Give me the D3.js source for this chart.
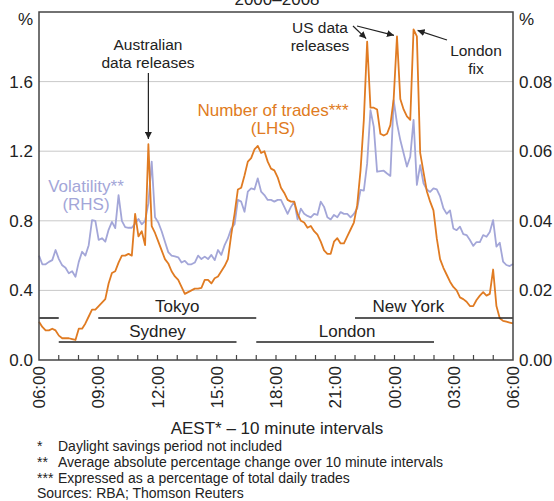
<!DOCTYPE html>
<html lang="en">
<head>
<meta charset="utf-8">
<title>Intraday trading and volatility</title>
<script src="https://d3js.org/d3.v7.min.js"></script>
<style>
    body {
        margin: 0;
        background: #fff;
        font-family: Arial, "Liberation Sans", Helvetica, sans-serif;
    }
    text { fill: #222; }
    .grid line { stroke: #c9c9c9; stroke-width: 1; }
    .frame { stroke: #444; stroke-width: 1.5; fill: none; }
</style>
</head>
<body>
<div id="chart"></div>
<script>

// 10 minute intervals from 06:00 AEST
var trades = [
    0.22, 0.19, 0.17, 0.17, 0.18, 0.17, 0.14, 0.125, 0.125, 0.125,
    0.12, 0.115, 0.18, 0.18, 0.21, 0.25, 0.29, 0.29, 0.31, 0.33,
    0.35, 0.44, 0.50, 0.51, 0.56, 0.60, 0.60, 0.61, 0.60, 0.84,
    0.71, 0.74, 0.66, 1.24, 0.77, 0.73, 0.68, 0.63, 0.58, 0.555,
    0.51, 0.48, 0.46, 0.42, 0.38, 0.39, 0.40, 0.41, 0.41, 0.415,
    0.46, 0.46, 0.44, 0.47, 0.48, 0.51, 0.54, 0.58, 0.72, 0.84,
    0.98, 0.99, 1.06, 1.14, 1.16, 1.21, 1.23, 1.19, 1.20, 1.14,
    1.10, 1.09, 1.05, 0.99, 0.96, 0.92, 0.91, 0.91, 0.84, 0.80,
    0.79, 0.76, 0.77, 0.74, 0.72, 0.68, 0.63, 0.61, 0.61, 0.68,
    0.70, 0.67, 0.67, 0.71, 0.75, 0.79, 0.89, 1.09, 1.38, 1.83,
    1.45, 1.45, 1.44, 1.30, 1.29, 1.30, 1.35, 1.50, 1.86, 1.50,
    1.44, 1.40, 1.38, 1.90, 1.86, 1.19, 1.08, 0.97, 0.91, 0.86,
    0.70, 0.58, 0.53, 0.49, 0.45, 0.42, 0.40, 0.36, 0.35, 0.335,
    0.31, 0.31, 0.345, 0.37, 0.39, 0.37, 0.38, 0.52, 0.31, 0.24,
    0.225, 0.22, 0.215, 0.21
];

var volatility = [
    0.030, 0.0275, 0.0275, 0.0282, 0.0287, 0.0316, 0.029, 0.0272, 0.0265, 0.0249,
    0.0255, 0.0239, 0.0282, 0.0311, 0.030, 0.033, 0.0402, 0.040, 0.0345, 0.035,
    0.034, 0.0374, 0.0397, 0.0379, 0.0474, 0.040, 0.0382, 0.038, 0.038, 0.0392,
    0.0405, 0.039, 0.040, 0.045, 0.057, 0.041, 0.0395, 0.037, 0.034, 0.031,
    0.030, 0.0298, 0.0295, 0.028, 0.0285, 0.0275, 0.0275, 0.028, 0.030, 0.029,
    0.0297, 0.029, 0.0302, 0.0287, 0.0316, 0.0302, 0.033, 0.035, 0.0378, 0.039,
    0.046, 0.0455, 0.0426, 0.0484, 0.0493, 0.049, 0.0522, 0.0484, 0.0474, 0.046,
    0.046, 0.0455, 0.046, 0.046, 0.044, 0.042, 0.044, 0.0455, 0.0404, 0.0435,
    0.042, 0.0414, 0.041, 0.042, 0.0417, 0.0455, 0.044, 0.041, 0.0404, 0.0417,
    0.041, 0.0425, 0.042, 0.042, 0.041, 0.042, 0.0436, 0.0489, 0.0487, 0.0565,
    0.0718, 0.067, 0.0541, 0.0543, 0.0544, 0.0536, 0.0529, 0.0747, 0.068, 0.0632,
    0.0594, 0.0556, 0.0584, 0.069, 0.0503, 0.056, 0.0508, 0.049, 0.0483, 0.0493,
    0.049, 0.047, 0.0436, 0.042, 0.043, 0.0378, 0.0373, 0.0383, 0.0362, 0.0359,
    0.0345, 0.0328, 0.0339, 0.0339, 0.0359, 0.0354, 0.0368, 0.0402, 0.0326, 0.0337,
    0.0283, 0.0273, 0.0270, 0.0276
];

var timeLabels = ["06:00", "09:00", "12:00", "15:00", "18:00", "21:00", "00:00", "03:00", "06:00"];
var leftTicks = [0, 0.4, 0.8, 1.2, 1.6];
var rightTicks = [0, 0.02, 0.04, 0.06, 0.08];

// trading sessions, hours after 06:00
var sessions = [
    {name: "New York", start: 16, end: 24, row: 0},
    {name: "", start: 0, end: 1, row: 0},
    {name: "Tokyo", start: 3, end: 11, row: 0},
    {name: "Sydney", start: 1, end: 10, row: 1},
    {name: "London", start: 11, end: 20, row: 1}
];
var sessionLabels = [
    {name: "Tokyo", at: 7, row: 0},
    {name: "New York", at: 18.7, row: 0},
    {name: "Sydney", at: 6, row: 1},
    {name: "London", at: 15.6, row: 1}
];

var footnotes = [
    ["*", "Daylight savings period not included"],
    ["**", "Average absolute percentage change over 10 minute intervals"],
    ["***", "Expressed as a percentage of total daily trades"]
];

var width = 554, height = 501;
var plotL = 39, plotR = 513, plotT = 12, plotB = 360;
var orange = "#e07b22", lilac = "#a3a6d8";

var svg = d3.select("#chart").append("svg")
    .attr("width", width)
    .attr("height", height);

var defs = svg.append("defs");
defs.append("marker")
    .attr("id", "arrow")
    .attr("viewBox", "0 0 10 10")
    .attr("refX", 10).attr("refY", 5)
    .attr("markerWidth", 7).attr("markerHeight", 7)
    .attr("markerUnits", "userSpaceOnUse")
    .attr("orient", "auto")
    .append("path")
    .attr("d", "M0,0 L10,5 L0,10 z")
    .attr("fill", "#222");

var x = d3.scaleLinear().domain([0, trades.length - 1]).range([plotL, plotR]);
var hours = d3.scaleLinear().domain([0, 24]).range([plotL, plotR]);
var yL = d3.scaleLinear().domain([0, 2]).range([plotB, plotT]);
var yR = d3.scaleLinear().domain([0, 0.1]).range([plotB, plotT]);

// grid
svg.append("g").attr("class", "grid")
    .selectAll("line")
    .data(leftTicks.filter(function(d) { return d > 0; }))
    .enter().append("line")
    .attr("x1", plotL).attr("x2", plotR)
    .attr("y1", function(d) { return yL(d); })
    .attr("y2", function(d) { return yL(d); });

// axis labels
svg.append("g").selectAll("text")
    .data(leftTicks)
    .enter().append("text")
    .attr("x", 33)
    .attr("y", function(d) { return yL(d); })
    .attr("dy", "0.35em")
    .attr("text-anchor", "end")
    .style("font-size", "17px")
    .text(function(d) { return d3.format(".1f")(d); });

svg.append("g").selectAll("text")
    .data(rightTicks)
    .enter().append("text")
    .attr("x", 519)
    .attr("y", function(d) { return yR(d); })
    .attr("dy", "0.35em")
    .style("font-size", "17px")
    .text(function(d) { return d3.format(".2f")(d); });

svg.append("text").attr("x", 33).attr("y", 25).attr("text-anchor", "end")
    .style("font-size", "17px").text("%");
svg.append("text").attr("x", 519).attr("y", 25)
    .style("font-size", "17px").text("%");

svg.append("text").attr("x", 277).attr("y", 5).attr("text-anchor", "middle")
    .style("font-size", "17px").text("2000–2008");

// hour ticks along the bottom
svg.append("g").selectAll("line")
    .data(d3.range(1, 24))
    .enter().append("line")
    .attr("x1", function(d) { return hours(d); })
    .attr("x2", function(d) { return hours(d); })
    .attr("y1", plotB).attr("y2", plotB - 5)
    .attr("stroke", "#444").attr("stroke-width", 1.2);

svg.append("g").selectAll("text")
    .data(timeLabels)
    .enter().append("text")
    .attr("transform", function(d, i) { return "translate(" + hours(i * 3) + ",366) rotate(-90)"; })
    .attr("dy", "0.36em")
    .attr("text-anchor", "end")
    .style("font-size", "17px")
    .text(function(d) { return d; });

// series
var lineV = d3.line()
    .x(function(d, i) { return x(i); })
    .y(function(d) { return yR(d); });
var lineT = d3.line()
    .x(function(d, i) { return x(i); })
    .y(function(d) { return yL(d); });

svg.append("path").datum(volatility)
    .attr("d", lineV)
    .attr("fill", "none")
    .attr("stroke", lilac)
    .attr("stroke-width", 1.8)
    .attr("stroke-linejoin", "round");

svg.append("path").datum(trades)
    .attr("d", lineT)
    .attr("fill", "none")
    .attr("stroke", orange)
    .attr("stroke-width", 1.8)
    .attr("stroke-linejoin", "round");

// sessions
var rowY = [318, 342];
var rowText = [312, 337];
svg.append("g").selectAll("line")
    .data(sessions)
    .enter().append("line")
    .attr("x1", function(d) { return hours(d.start); })
    .attr("x2", function(d) { return hours(d.end); })
    .attr("y1", function(d) { return rowY[d.row]; })
    .attr("y2", function(d) { return rowY[d.row]; })
    .attr("stroke", "#222").attr("stroke-width", 1.6);

svg.append("g").selectAll("text")
    .data(sessionLabels)
    .enter().append("text")
    .attr("x", function(d) { return hours(d.at); })
    .attr("y", function(d) { return rowText[d.row]; })
    .attr("text-anchor", "middle")
    .style("font-size", "17px")
    .text(function(d) { return d.name; });

// frame
svg.append("rect").attr("class", "frame")
    .attr("x", plotL).attr("y", plotT)
    .attr("width", plotR - plotL).attr("height", plotB - plotT);

// series labels
svg.append("text").attr("x", 273).attr("y", 116).attr("text-anchor", "middle")
    .style("font-size", "17px").style("fill", orange).text("Number of trades***");
svg.append("text").attr("x", 273).attr("y", 134).attr("text-anchor", "middle")
    .style("font-size", "17px").style("fill", orange).text("(LHS)");
svg.append("text").attr("x", 86).attr("y", 192).attr("text-anchor", "middle")
    .style("font-size", "17px").style("fill", lilac).text("Volatility**");
svg.append("text").attr("x", 86).attr("y", 210).attr("text-anchor", "middle")
    .style("font-size", "17px").style("fill", lilac).text("(RHS)");

// annotations
function note(lines, cx, y0) {
    lines.forEach(function(t, i) {
        svg.append("text").attr("x", cx).attr("y", y0 + i * 18)
            .attr("text-anchor", "middle")
            .style("font-size", "15.5px")
            .text(t);
    });
}
function arrow(x1, y1, x2, y2) {
    svg.append("line")
        .attr("x1", x1).attr("y1", y1).attr("x2", x2).attr("y2", y2)
        .attr("stroke", "#222").attr("stroke-width", 1.2)
        .attr("marker-end", "url(#arrow)");
}

note(["Australian", "data releases"], 148, 50);
arrow(x(33), 73, x(33), 139);

note(["US data", "releases"], 320, 33);
arrow(353, 26, x(99) - 1, yL(trades[99]) - 3);
arrow(357, 26, x(108) - 3, yL(trades[108]) - 1);

note(["London", "fix"], 476, 56);
arrow(447, 40, x(113) + 4, yL(trades[113]) + 1);

// footer
svg.append("text").attr("x", 277).attr("y", 434).attr("text-anchor", "middle")
    .style("font-size", "17px").text("AEST* – 10 minute intervals");

var foot = svg.append("g").style("font-size", "14px");
footnotes.forEach(function(f, i) {
    foot.append("text").attr("x", 37).attr("y", 451 + i * 16).text(f[0]);
    foot.append("text").attr("x", 58).attr("y", 451 + i * 16).text(f[1]);
});
foot.append("text").attr("x", 37).attr("y", 498).text("Sources: RBA; Thomson Reuters");

</script>
</body>
</html>
